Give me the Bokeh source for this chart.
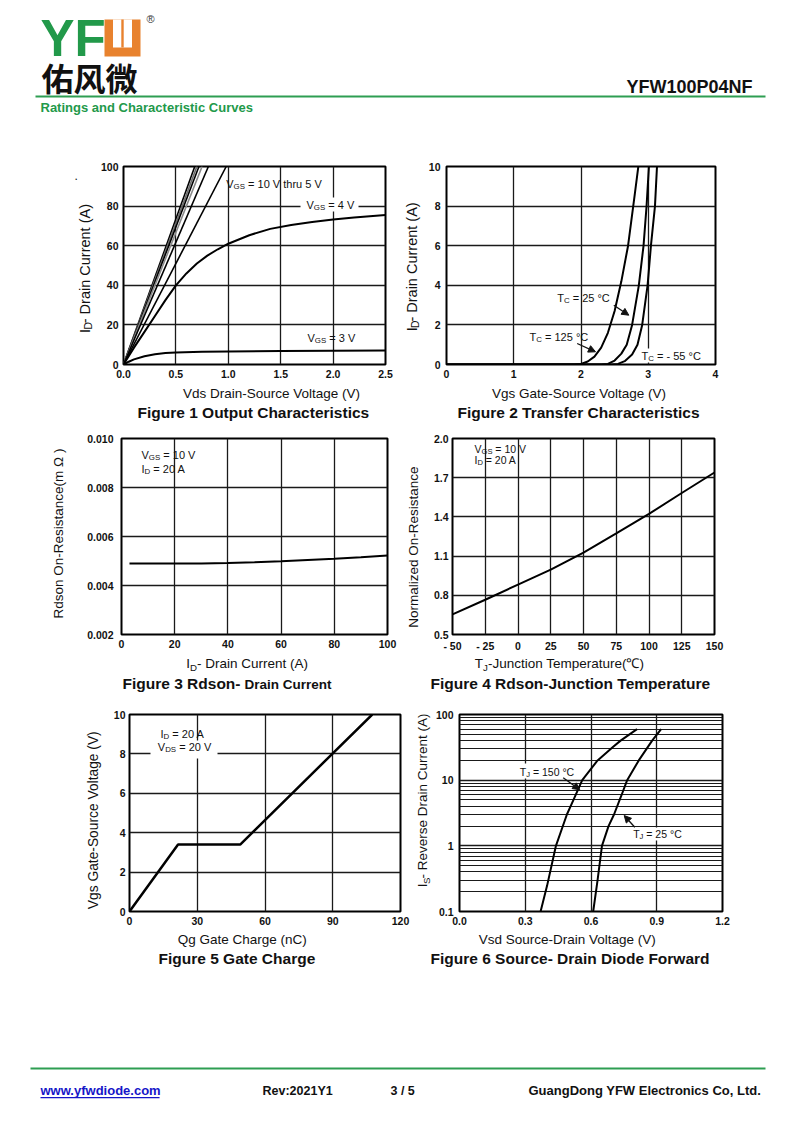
import re, math
from bokeh.plotting import figure
from bokeh.models import (Range1d, Label, BoxAnnotation, Arrow, NormalHead,
                          FixedTicker, PrintfTickFormatter, CustomJSTickFormatter)
from bokeh.layouts import column, row
from bokeh.embed import file_html
from bokeh.resources import INLINE

FONT = "Liberation Sans"
CJK = "Noto Sans CJK SC"

# ---------------- data ----------------
# Figure 1: output characteristics
f1_hi_vds_at_100a = [0.68, 0.70, 0.72, 0.75, 0.81, 0.98]   # VGS = 10 V thru 5 V
f1_hi_id = [0, 100]
f1_vds_4v = [0, 0.1, 0.2, 0.3, 0.4, 0.5, 0.6, 0.7, 0.8, 0.9, 1.0, 1.2, 1.4, 1.6, 1.8, 2.0, 2.2, 2.5]
f1_id_4v = [0, 8.5, 16.5, 24.5, 32.5, 40, 46, 51, 55, 58.2, 61, 65.3, 68.5, 70.5, 72, 73.2, 74.2, 75.5]
f1_vds_3v = [0, 0.05, 0.1, 0.2, 0.3, 0.4, 0.5, 0.75, 1.0, 1.5, 2.0, 2.5]
f1_id_3v = [0, 1.4, 2.6, 4.2, 5.2, 5.8, 6.1, 6.4, 6.6, 6.8, 7.0, 7.1]
f1_xticks = [0, 0.5, 1.0, 1.5, 2.0, 2.5]
f1_yticks = [0, 20, 40, 60, 80, 100]

# Figure 2: transfer characteristics
f2_vgs_125 = [0, 1.9, 2.0, 2.1, 2.2, 2.3, 2.4, 2.5, 2.6, 2.7, 2.8, 2.86]
f2_id_125 = [0, 0, 0.03, 0.15, 0.4, 0.85, 1.6, 2.7, 4.2, 6.0, 8.6, 10.2]
f2_vgs_25 = [0, 2.3, 2.4, 2.5, 2.6, 2.68, 2.76, 2.86, 2.93, 2.975, 3.01, 3.02]
f2_id_25 = [0, 0, 0.03, 0.2, 0.55, 1.0, 2.0, 4.0, 6.0, 8.0, 10.0, 10.5]
f2_vgs_m55 = [0, 2.45, 2.55, 2.65, 2.76, 2.84, 2.91, 2.99, 3.04, 3.10, 3.13, 3.14]
f2_id_m55 = [0, 0, 0.03, 0.17, 0.5, 1.0, 2.0, 4.0, 6.0, 8.0, 10.0, 10.5]
f2_xticks = [0, 1, 2, 3, 4]
f2_yticks = [0, 2, 4, 6, 8, 10]

# Figure 3: Rdson vs drain current
f3_id = [3, 10, 20, 30, 40, 50, 60, 70, 80, 90, 100]
f3_rds = [0.00490, 0.00490, 0.00490, 0.00490, 0.00492, 0.00495, 0.00499, 0.00504, 0.00509, 0.00515, 0.00522]
f3_xticks = [0, 20, 40, 60, 80, 100]
f3_yticks = [0.002, 0.004, 0.006, 0.008, 0.010]

# Figure 4: normalized Rdson vs junction temperature
f4_tj = [-50, -25, 0, 25, 50, 75, 100, 125, 150]
f4_rn = [0.654, 0.766, 0.882, 0.996, 1.127, 1.274, 1.423, 1.583, 1.74]
f4_xticks = [-50, -25, 0, 25, 50, 75, 100, 125, 150]
f4_yticks = [0.5, 0.8, 1.1, 1.4, 1.7, 2.0]

# Figure 5: gate charge
f5_qg = [0, 21.5, 49, 107.5]
f5_vgs = [0, 3.4, 3.4, 10]
f5_xticks = [0, 30, 60, 90, 120]
f5_yticks = [0, 2, 4, 6, 8, 10]

# Figure 6: source-drain diode forward
f6_vsd_150 = [0.37, 0.40, 0.44, 0.49, 0.52, 0.56, 0.63, 0.70, 0.735, 0.81]
f6_is_150 = [0.1, 0.25, 1, 3, 5, 10, 20, 32, 40, 60]
f6_vsd_25 = [0.61, 0.63, 0.65, 0.68, 0.705, 0.74, 0.765, 0.818, 0.879, 0.92]
f6_is_25 = [0.1, 0.3, 1, 2, 3, 6, 10, 20, 40, 60]
f6_xticks = [0, 0.3, 0.6, 0.9, 1.2]
f6_yticks = [0.1, 1, 10, 100]
f6_yminor = [0.2, 0.3, 0.4, 0.5, 0.6, 0.7, 0.8, 0.9, 2, 3, 4, 5, 6, 7, 8, 9,
             20, 30, 40, 50, 60, 70, 80, 90]

# ---------------- helpers ----------------
WID = {' ': 278, '!': 278, '(': 333, ')': 333, '-': 333, '.': 278, ',': 278, ':': 278,
       '/': 278, '=': 584, '°': 400, '℃': 1000, 'Ω': 768}
WID.update(dict(zip("ABCDEFGHIJKLMNOPQRSTUVWXYZ",
                    [667, 667, 722, 722, 667, 611, 778, 722, 278, 500, 667, 556, 833, 722, 778,
                     667, 778, 722, 667, 611, 722, 667, 944, 667, 667, 611])))
WID.update(dict(zip("abcdefghijklmnopqrstuvwxyz",
                    [556, 556, 500, 556, 556, 278, 556, 556, 222, 222, 500, 222, 833, 556, 556,
                     556, 556, 333, 500, 278, 556, 500, 722, 500, 500, 500])))


def tw(s, size, bold=False):
    w = sum(556 if c.isdigit() else WID.get(c, 556) for c in s)
    return w * size / 1000.0 * (1.07 if bold else 1.0)


def parse(s):
    parts, pos = [], 0
    for m in re.finditer(r"_\{([^}]*)\}", s):
        if m.start() > pos:
            parts.append((s[pos:m.start()], False))
        parts.append((m.group(1), True))
        pos = m.end()
    if pos < len(s):
        parts.append((s[pos:], False))
    return parts


def mk_label(x, y, t, sz, angle, bold, color, align, font=FONT, **kw):
    return Label(x=x, y=y, text=t, angle=angle, text_font=font,
                 text_font_size="%.1fpx" % sz if isinstance(sz, (int, float)) else sz,
                 text_font_style="bold" if bold else "normal", text_color=color,
                 text_align=align, text_baseline="middle", **kw)


def lead(t, sz, bold):
    n = len(t) - len(t.lstrip(' '))
    return tw(' ' * n, sz, bold)


def rich(p, fr, x, y, s, size, bold=False, color="#111111"):
    """Annotation inside a chart frame; x, y are page pixels, fr = frame (left, bottom)."""
    fl, fb = fr
    parts = [(t, size * 0.72 if sub else size, sub) for t, sub in parse(s)]
    pos = 0.0
    for t, sz, sub in parts:
        off = size * 0.28 if sub else 0.0
        sx, sy = x - fl + pos + lead(t, sz, bold), fb - y - off
        p.add_layout(mk_label(sx, sy, t.strip(' '), sz, 0.0, bold, color, "left",
                              x_units="screen", y_units="screen"))
        pos += tw(t, sz, bold)


def ptext(p, x, y, s, size, angle=0.0, align="left", bold=False, color="#111111", font=FONT):
    """Text on a page canvas whose data coordinates are page pixels (y downwards)."""
    parts = [(t, size * 0.72 if sub else size, sub) for t, sub in parse(s)]
    if len(parts) == 1:
        p.add_layout(mk_label(x, y, s, size, angle, bold, color, align, font=font))
        return
    total = sum(tw(t, sz, bold) for t, sz, _ in parts)
    pos = -total / 2.0 if align == "center" else (-total if align == "right" else 0.0)
    for t, sz, sub in parts:
        off = size * 0.28 if sub else 0.0
        q = pos + lead(t, sz, bold)
        if angle == 0:
            lx, ly = x + q, y + off
        else:
            lx, ly = x + off, y - q
        p.add_layout(mk_label(lx, ly, t.strip(' '), sz, angle, bold, color, "left", font=font))
        pos += tw(t, sz, bold)


def arrow(p, fr, x0, y0, x1, y1):
    fl, fb = fr
    p.add_layout(Arrow(x_start=x0 - fl, y_start=fb - y0, x_end=x1 - fl, y_end=fb - y1,
                       start_units="screen", end_units="screen", line_color="#111111",
                       line_width=1.3,
                       end=NormalHead(size=7, fill_color="#111111", line_color="#111111")))


def box(p, fr, x0, x1, y0, y1):
    fl, fb = fr
    p.add_layout(BoxAnnotation(left=x0 - fl, right=x1 - fl, top=fb - y0, bottom=fb - y1,
                               left_units="screen", right_units="screen",
                               top_units="screen", bottom_units="screen",
                               fill_color="white", fill_alpha=1.0, line_color=None))


def pbox(p, x0, x1, ya, yb, color):
    p.add_layout(BoxAnnotation(left=x0, right=x1, top=ya, bottom=yb,
                               fill_color=color, fill_alpha=1.0, line_color=None))


def canvas(x0, y0, w, h):
    p = figure(width=w, height=h, x_range=Range1d(x0, x0 + w), y_range=Range1d(y0 + h, y0),
               x_axis_type=None, y_axis_type=None, output_backend="svg",
               toolbar_location=None, title=None, min_border=0)
    p.outline_line_color = None
    p.background_fill_color = "white"
    p.border_fill_color = "white"
    return p


def make_fig(w, h, bl, br, bt, bb, xr, yr, xticks, yticks, xfmt=None, yfmt=None,
             ystand=5, ylog=False, yminor=None):
    p = figure(width=w, height=h, x_range=Range1d(*xr), y_range=Range1d(*yr),
               y_axis_type="log" if ylog else "linear", output_backend="svg",
               toolbar_location=None, title=None, min_border_left=bl, min_border_right=br,
               min_border_top=bt, min_border_bottom=bb)
    p.background_fill_color = "white"
    p.border_fill_color = "white"
    p.outline_line_color = "black"
    p.outline_line_width = 2
    p.outline_line_alpha = 1
    xt = FixedTicker(ticks=xticks)
    yt = FixedTicker(ticks=yticks, minor_ticks=yminor or [])
    p.xaxis.ticker = xt
    p.xgrid.ticker = xt
    p.yaxis.ticker = yt
    p.ygrid.ticker = yt
    if xfmt is not None:
        p.xaxis.formatter = xfmt
    if yfmt is not None:
        p.yaxis.formatter = yfmt
    p.axis.axis_line_color = None
    p.axis.major_tick_line_color = None
    p.axis.minor_tick_line_color = None
    p.axis.major_tick_out = 0
    p.axis.major_tick_in = 0
    p.axis.minor_tick_out = 0
    p.axis.minor_tick_in = 0
    p.axis.major_label_text_font = FONT
    p.axis.major_label_text_font_size = "10.5px"
    p.axis.major_label_text_font_style = "bold"
    p.axis.major_label_text_color = "#111111"
    p.xaxis.major_label_standoff = 5
    p.yaxis.major_label_standoff = ystand
    p.grid.grid_line_color = "#1a1a1a"
    p.grid.grid_line_width = 1.3
    p.grid.grid_line_alpha = 1
    if yminor:
        p.ygrid.minor_grid_line_color = "#1a1a1a"
        p.ygrid.minor_grid_line_width = 1
    return p


PI2 = math.pi / 2
GREEN = "#22994a"
ORANGE = "#e8822e"

# ---------------- header (page y 0-150) ----------------
hdr = canvas(0, 0, 800, 150)
ptext(hdr, 40, 38, "YF", "51px", bold=True, color=GREEN)
pbox(hdr, 104, 140, 19, 56, ORANGE)
pbox(hdr, 112.5, 131.5, 19, 47, "white")
pbox(hdr, 120.8, 123.2, 19, 47, ORANGE)
ptext(hdr, 146, 18, "®", "11px", color="#333333")
ptext(hdr, 41, 76, "佑风微", "32px", bold=True, font=CJK)
ptext(hdr, 752, 86, "YFW100P04NF", "18px", align="right", bold=True)
pbox(hdr, 35, 765, 95, 97, "#2e9e52")
ptext(hdr, 40, 107, "Ratings and Characteristic Curves", "13px", bold=True, color=GREEN)

# ---------------- row 1 (page y 150-386, labels 386-425) ----------------
yl1 = canvas(0, 150, 95, 236)
ptext(yl1, 74, 161, ".", "12px")
ptext(yl1, 84, 283, "I_{D}- Drain Current (A)", 14.5, angle=PI2, align="center")

FR1 = (123, 364)
c1 = make_fig(305, 236, 28, 15, 15, 22, (0, 2.5), (0, 100), f1_xticks, f1_yticks,
              PrintfTickFormatter(format="%.1f"), None, 5)
for xe, col in zip(f1_hi_vds_at_100a, ["black", "#6a6a6a", "black", "#8a8a8a", "black", "black"]):
    c1.line([0, xe], f1_hi_id, line_color=col, line_width=1.6)
c1.line(f1_vds_4v, f1_id_4v, line_color="black", line_width=2)
c1.line(f1_vds_3v, f1_id_3v, line_color="black", line_width=2)
rich(c1, FR1, 225.7, 183, "V_{GS} = 10 V thru 5 V", 11)
box(c1, FR1, 300, 358, 197, 211)
rich(c1, FR1, 306, 204, "V_{GS} = 4 V", 11)
rich(c1, FR1, 307, 337, "V_{GS} = 3 V", 11)

yl2 = canvas(400, 150, 25, 236)
ptext(yl2, 411, 281, "I_{D}- Drain Current (A)", 14.5, angle=PI2, align="center")

FR2 = (446, 366)
c2 = make_fig(375, 236, 21, 85, 16, 20, (0, 4), (0, 10), f2_xticks, f2_yticks, None, None, 6)
c2.line(f2_vgs_125, f2_id_125, line_color="black", line_width=2)
c2.line(f2_vgs_25, f2_id_25, line_color="black", line_width=2)
c2.line(f2_vgs_m55, f2_id_m55, line_color="black", line_width=2)
rich(c2, FR2, 556.7, 299, "T_{C} = 25 °C", 11)
arrow(c2, FR2, 613.3, 306.7, 628.3, 316.7)
rich(c2, FR2, 529, 338, "T_{C} = 125 °C", 11)
arrow(c2, FR2, 576.7, 345, 595, 353.3)
box(c2, FR2, 638, 704, 350, 364)
rich(c2, FR2, 641, 357.3, "T_{C} = - 55 °C", 11)

b1 = canvas(0, 386, 800, 39)
ptext(b1, 271, 392.5, "Vds Drain-Source Voltage (V)", 13.5, align="center")
ptext(b1, 137, 412, "Figure 1 Output Characteristics", 15.5, bold=True)
ptext(b1, 578.5, 392.5, "Vgs Gate-Source Voltage (V)", 13.5, align="center")
ptext(b1, 457, 412, "Figure 2 Transfer Characteristics", 15.5, bold=True)

# ---------------- row 2 (page y 425-656, labels 656-700) ----------------
yl3 = canvas(0, 425, 75, 231)
ptext(yl3, 57.5, 537, "Rdson On-Resistance(m Ω )", 13.5, angle=PI2, align="center")

FR3 = (121, 634)
c3 = make_fig(325, 231, 46, 13, 7, 22, (0, 100), (0.002, 0.010), f3_xticks, f3_yticks,
              None, PrintfTickFormatter(format="%.3f"), 8)
c3.line(f3_id, f3_rds, line_color="black", line_width=2)
rich(c3, FR3, 141, 454, "V_{GS} = 10 V", 11)
rich(c3, FR3, 141, 468, "I_{D} = 20 A", 11)

yl4 = canvas(400, 425, 25, 231)
ptext(yl4, 412.5, 553, "Normalized On-Resistance", 13.5, angle=PI2, align="center")

FR4 = (452, 636)
c4 = make_fig(375, 231, 27, 86, 13, 20, (-50, 150), (0.5, 2.0), f4_xticks, f4_yticks,
              CustomJSTickFormatter(code="return tick < 0 ? '- ' + Math.abs(tick) : '' + tick;"),
              PrintfTickFormatter(format="%.1f"), 4)
c4.line(f4_tj, f4_rn, line_color="black", line_width=2)
rich(c4, FR4, 474, 450, "V_{GS} = 10 V", 10.5)
rich(c4, FR4, 474, 461.5, "I_{D} = 20 A", 10.5)

b2 = canvas(0, 656, 800, 44)
ptext(b2, 246.7, 663, "I_{D}- Drain Current (A)", 13.5, align="center")
ptext(b2, 122, 683, "Figure 3 Rdson-", 15.5, bold=True)
ptext(b2, 122 + tw("Figure 3 Rdson-", 15.5, True) + 3, 683.5, "Drain Current", 13.5, bold=True)
ptext(b2, 560, 663, "T_{J}-Junction Temperature(℃)", 13.5, align="center")
ptext(b2, 430, 683, "Figure 4 Rdson-Junction Temperature", 15.5, bold=True)

# ---------------- row 3 (page y 700-931, labels 931-975) ----------------
yl5 = canvas(0, 700, 105, 231)
ptext(yl5, 93, 824, "Vgs Gate-Source Voltage (V)", 13.8, angle=PI2, align="center")

FR5 = (129, 911)
c5 = make_fig(305, 231, 24, 10, 14, 20, (0, 120), (0, 10), f5_xticks, f5_yticks, None, None, 4)
c5.line(f5_qg, f5_vgs, line_color="black", line_width=2.5)
box(c5, FR5, 150, 217, 740, 758)
rich(c5, FR5, 160, 733, "I_{D} = 20 A", 11)
rich(c5, FR5, 157.3, 746, "V_{DS} = 20 V", 11)

yl6 = canvas(410, 700, 22, 231)
ptext(yl6, 422, 815, "I_{S}- Reverse Drain Current (A)", 13.5, angle=PI2, align="center")

FR6 = (458, 911)
c6 = make_fig(368, 231, 26, 78, 13, 20, (0, 1.2), (0.1, 100), f6_xticks, f6_yticks,
              PrintfTickFormatter(format="%.1f"),
              CustomJSTickFormatter(code="return String(parseFloat(tick.toPrecision(3)));"),
              6, ylog=True, yminor=f6_yminor)
c6.line(f6_vsd_150, f6_is_150, line_color="black", line_width=2)
c6.line(f6_vsd_25, f6_is_25, line_color="black", line_width=2)
box(c6, FR6, 515, 573, 763, 778)
rich(c6, FR6, 518.3, 771, "T_{J} = 150 °C", 10.5)
arrow(c6, FR6, 561.7, 777.3, 578.3, 789.3)
box(c6, FR6, 629, 683, 827, 840)
rich(c6, FR6, 631.7, 833.3, "T_{J} = 25 °C", 10.5)
arrow(c6, FR6, 633.3, 826.7, 622.7, 815)

b3 = canvas(0, 931, 800, 44)
ptext(b3, 241.7, 939, "Qg Gate Charge (nC)", 13.5, align="center")
ptext(b3, 158, 958, "Figure 5 Gate Charge", 15.5, bold=True)
ptext(b3, 566.7, 939, "Vsd Source-Drain Voltage (V)", 13.5, align="center")
ptext(b3, 430, 958, "Figure 6 Source- Drain Diode Forward", 15.5, bold=True)

# ---------------- footer (page y 975-1130) ----------------
ftr = canvas(0, 975, 800, 155)
pbox(ftr, 30, 765, 1067, 1069, "#2e9e52")
ptext(ftr, 40, 1090, "www.yfwdiode.com", "13px", bold=True, color="#1515c8")
pbox(ftr, 40, 40 + tw("www.yfwdiode.com", 13, True), 1096.5, 1097.7, "#1515c8")
ptext(ftr, 262, 1090, "Rev:2021Y1", "12.5px", bold=True)
ptext(ftr, 390, 1090, "3 / 5", "12.5px", bold=True)
ptext(ftr, 528, 1090, "GuangDong YFW Electronics Co, Ltd.", "13px", bold=True)

layout = column(hdr,
                row(yl1, c1, yl2, c2), b1,
                row(yl3, c3, yl4, c4), b2,
                row(yl5, c5, yl6, c6), b3,
                ftr)
open("out.html", "w").write(file_html(layout, INLINE))
